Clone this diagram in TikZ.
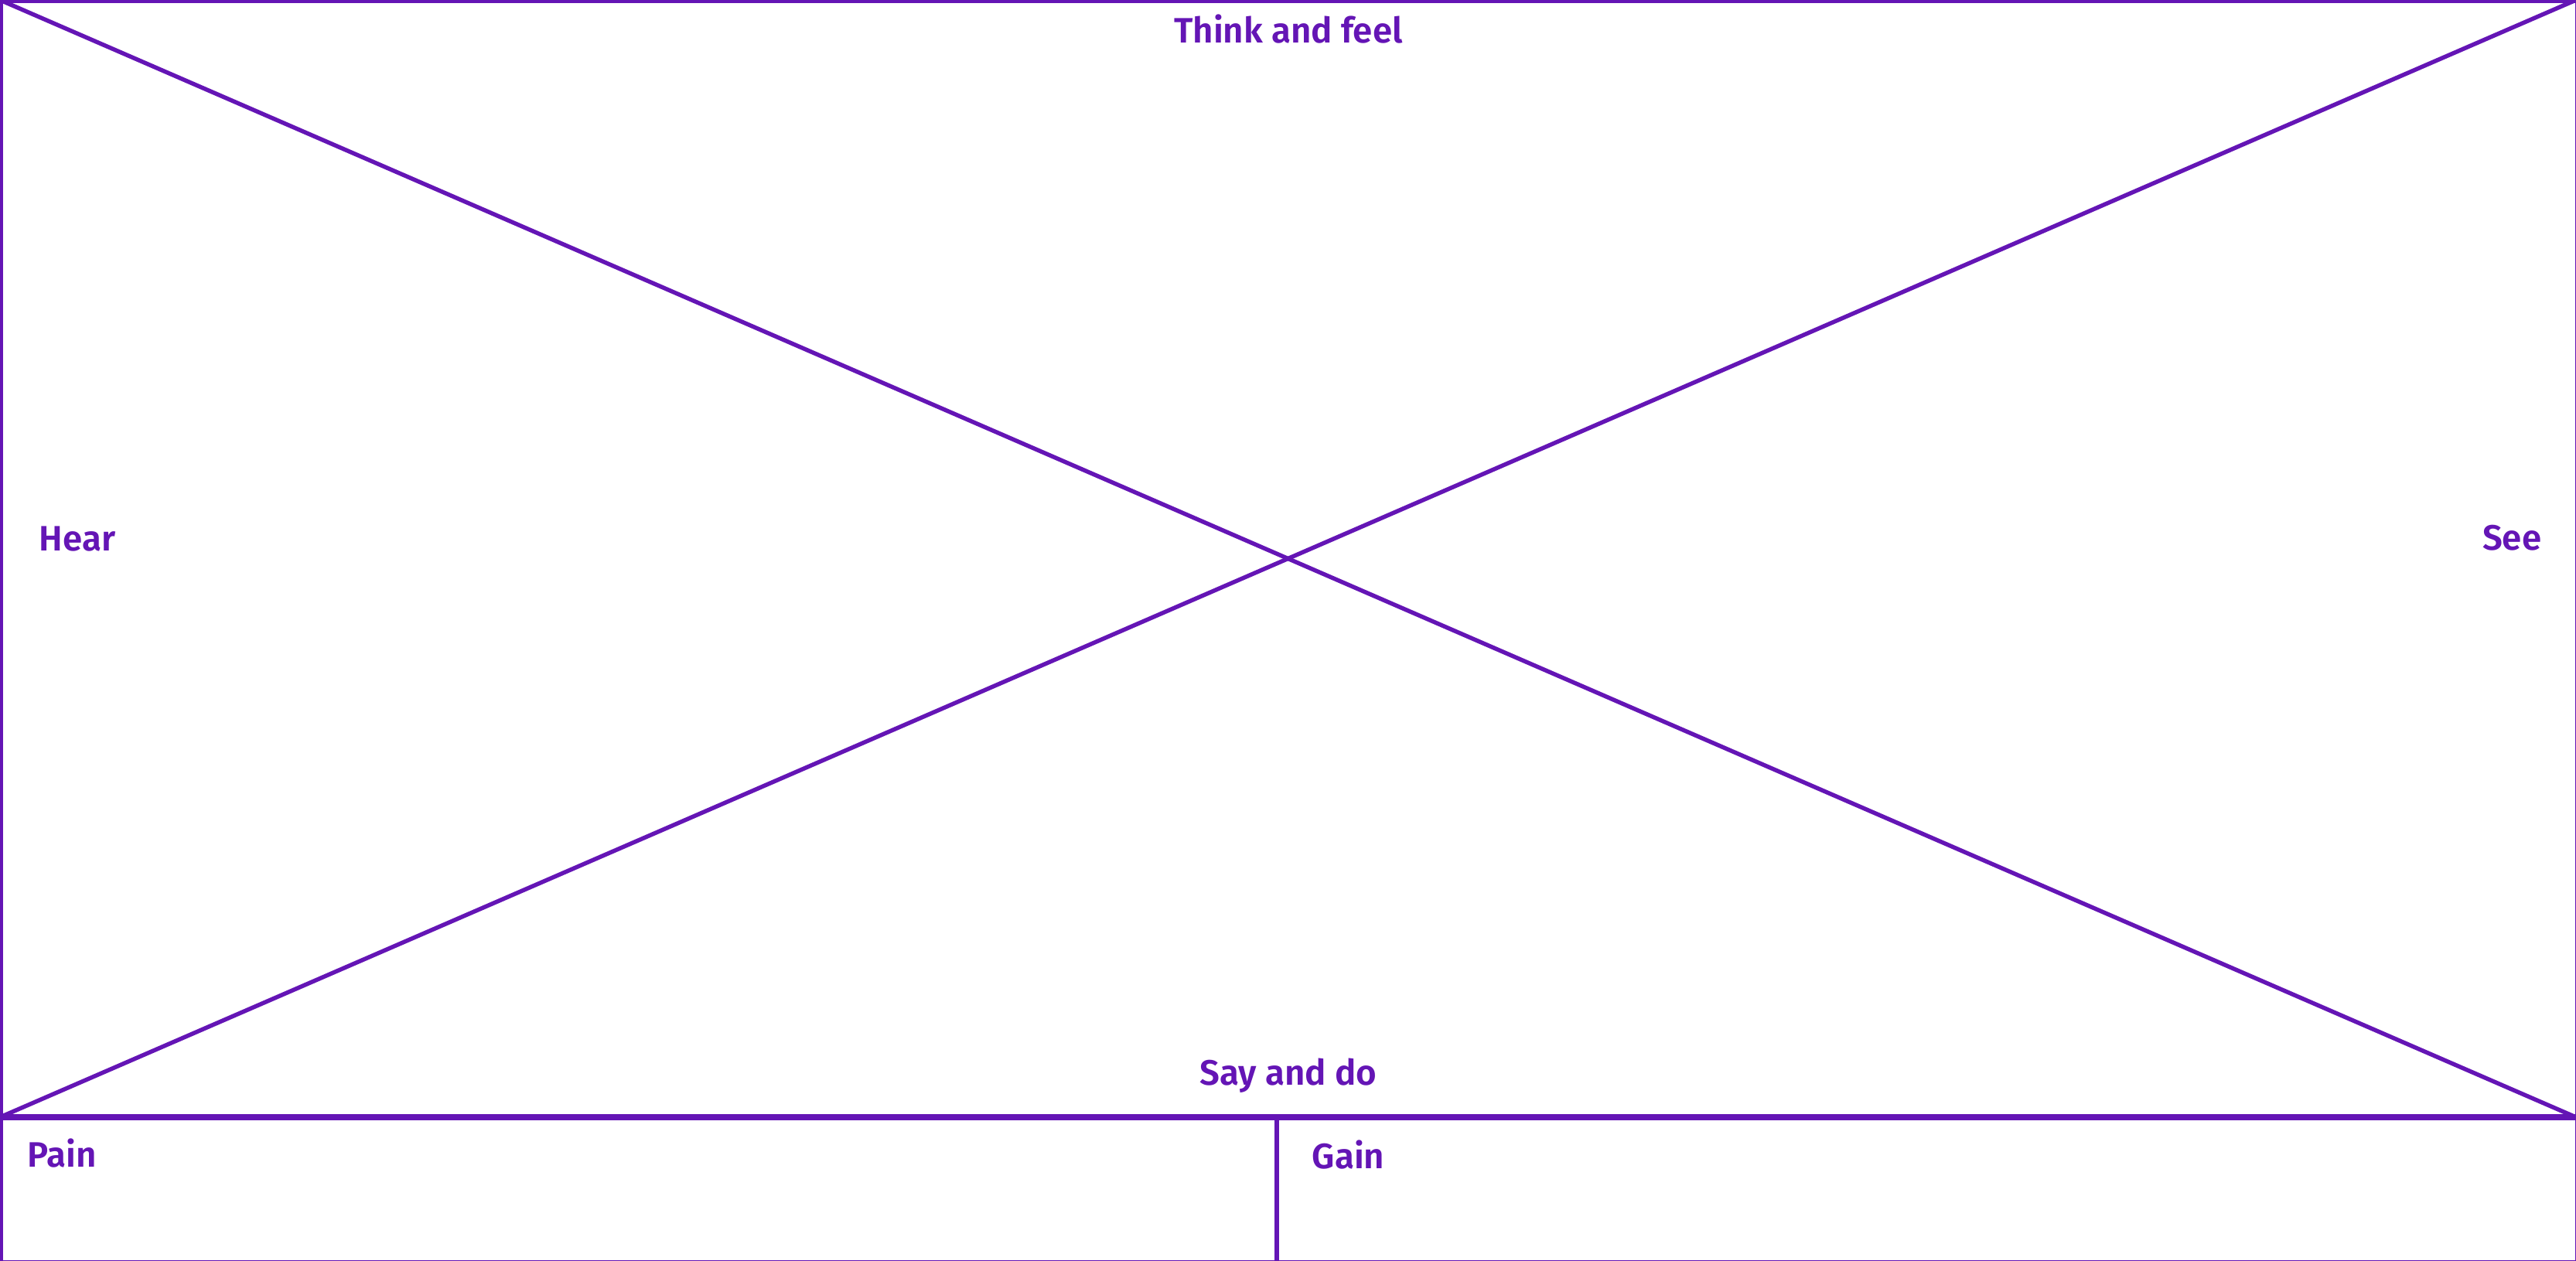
\documentclass[tikz,border=0pt]{standalone}
\usepackage{fontspec}
\setmainfont{Fira Sans}[BoldFont={Fira Sans SemiBold}]
\usepackage{xcolor}
\usetikzlibrary{positioning}
\definecolor{violet}{RGB}{100,21,181}
\tikzset{
  titre/.style={text=violet, inner sep=0pt, font=\fontsize{13}{16}\selectfont\bfseries},
  trait/.style={draw=violet, line width=1.55pt}
}

\begin{document}
\begin{tikzpicture}
          \useasboundingbox (0,0) rectangle (33.31,-16.31);
          \coordinate (coin1) at (0,0);
          \coordinate (coin2) at (33.31,0);
          \coordinate (coin3) at (0,-14.45);
          \coordinate (coin4) at (33.31,-14.45);
          \coordinate (milieu1) at (16.51,-14.45);
          \coordinate (milieu2) at (16.51,-16.31);
          \draw[violet, line width=1.2pt] (0.02,-0.02) rectangle (33.32,-16.32);
          \draw[trait] (coin1) -- (coin4) {};
          \draw[trait] (coin3) -- (coin2) {};
          \draw[trait, line width=2.4pt] (coin3) -- (coin4) {};
          \draw[trait, line width=1.7pt] (milieu1) -- (milieu2) {};
          \node [titre, anchor=base] (penser) at (16.66,-0.55) {Think and feel};
          \node [titre, anchor=base west] (entendre) at (0.50,-7.12) {Hear};
          \node [titre, anchor=base east] (voir) at (32.87,-7.11) {See};
          \node [titre, anchor=base] (dire) at (16.66,-14.03) {Say and do};
          \node [titre, anchor=base west] (peine) at (0.35,-15.09) {Pain};
          \node [titre, anchor=base west] (gain) at (16.96,-15.11) {Gain};
        \end{tikzpicture}
\end{document}
